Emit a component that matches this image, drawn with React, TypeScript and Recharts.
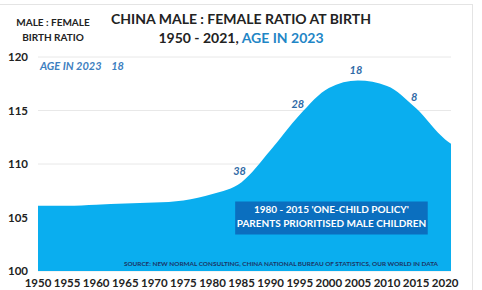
import React from "react";
import {
  AreaChart,
  Area,
  XAxis,
  YAxis,
  CartesianGrid,
  ReferenceArea,
  LabelList,
} from "recharts";

const years = [1950, 1955, 1960, 1965, 1970, 1975, 1980, 1985, 1990, 1995, 2000, 2005, 2010, 2015, 2020, 2021];
const ratios = [106.1, 106.1, 106.2, 106.3, 106.4, 106.6, 107.2, 108.3, 111.3, 114.6, 117.1, 117.8, 117.3, 115.2, 112.3, 111.9];
const ageYears = [1985, 1995, 2005, 2015];
const ages = [38, 28, 18, 8];
const xTicks = [1950, 1955, 1960, 1965, 1970, 1975, 1980, 1985, 1990, 1995, 2000, 2005, 2010, 2015, 2020];
const leftTicks = [100, 105, 110, 115, 120];
const rightTicks = [105, 110, 115, 120];

const data = years.map((y, i) => ({
  year: y,
  ratio: ratios[i],
  age: ages[ageYears.indexOf(y)],
}));

const font = "Lato, 'Open Sans', sans-serif";
const tickStyle = { fill: "#222", fontSize: 11.5, fontWeight: 700, fontFamily: font };

const AgeLabel = (props: any) => {
  const { x, y, value } = props;
  if (value === undefined || value === null) return null;
  return (
    <text
      x={x - 2}
      y={y - 7}
      textAnchor="middle"
      fill="#2f6aa6"
      fontSize={11}
      fontWeight={700}
      fontStyle="italic"
      fontFamily={font}
    >
      {value}
    </text>
  );
};

const PolicyLabel = (props: any) => {
  const { viewBox } = props;
  const cx = viewBox.x + viewBox.width / 2;
  return (
    <g fontFamily={font} fontSize={10} fontWeight={700} fill="#fff" textAnchor="middle">
      <text x={cx} y={viewBox.y + 12}>1980 - 2015 'ONE-CHILD POLICY'</text>
      <text x={cx} y={viewBox.y + 26}>PARENTS PRIORITISED MALE CHILDREN</text>
    </g>
  );
};

export default function App() {
  return (
    <div style={{ position: "fixed", left: 0, top: 0, width: 482, height: 290, background: "#fff", fontFamily: font }}>
      <div style={{ position: "absolute", left: 0, top: 4, width: 472, height: 290, borderTop: "1px solid #e4e4e4", borderRight: "1px solid #e4e4e4" }} />
      <AreaChart width={482} height={290} data={data} margin={{ top: 57, right: 0, bottom: 0, left: 0 }}>
        <CartesianGrid yAxisId="left" vertical={false} stroke="#e8e8e8" />
        <XAxis
          dataKey="year"
          type="number"
          domain={[1950, 2021]}
          ticks={xTicks}
          axisLine={false}
          tickLine={false}
          height={19}
          tick={tickStyle}
          interval={0}
        />
        <YAxis
          yAxisId="left"
          domain={[100, 120]}
          ticks={leftTicks}
          axisLine={false}
          tickLine={false}
          width={38}
          tickMargin={4}
          tick={tickStyle}
        />
        <YAxis
          yAxisId="right"
          orientation="right"
          domain={[100, 120]}
          ticks={rightTicks}
          axisLine={false}
          tickLine={false}
          width={31}
          tickSize={2}
          tickMargin={0}
          tick={{ ...tickStyle, dx: -5 }}
        />
        <Area
          yAxisId="left"
          type="monotone"
          dataKey="ratio"
          baseValue={100}
          stroke="none"
          fill="#0aaeef"
          fillOpacity={1}
          isAnimationActive={false}
        >
          <LabelList dataKey="age" content={AgeLabel} />
        </Area>
        <ReferenceArea
          yAxisId="left"
          x1={1983.9}
          x2={2017}
          y1={103.4}
          y2={106.5}
          fill="#0b6fbf"
          fillOpacity={1}
          stroke="none"
          label={PolicyLabel}
        />
      </AreaChart>
      <div style={{ position: "absolute", left: 10, top: 15, width: 86, textAlign: "center", fontSize: 10, fontWeight: 700, color: "#222", lineHeight: "15px" }}>
        MALE : FEMALE
        <br />
        BIRTH RATIO
      </div>
      <div style={{ position: "absolute", left: 0, top: 9, width: 482, textAlign: "center", fontSize: 14, fontWeight: 700, color: "#222", lineHeight: "19px" }}>
        CHINA MALE : FEMALE RATIO AT BIRTH
        <br />
        1950 - 2021, <span style={{ color: "#1f86c6" }}>AGE IN 2023</span>
      </div>
      <div style={{ position: "absolute", left: 40, top: 59, fontSize: 11, fontWeight: 700, fontStyle: "italic", color: "#3d80c0" }}>
        AGE IN 2023&nbsp;&nbsp;&nbsp;&nbsp;18
      </div>
      <div style={{ position: "absolute", left: 118, top: 260, width: 326, textAlign: "center", fontSize: 6.4, fontWeight: 700, color: "#1b3566", whiteSpace: "nowrap" }}>
        SOURCE: NEW NORMAL CONSULTING, CHINA NATIONAL BUREAU OF STATISTICS, OUR WORLD IN DATA
      </div>
    </div>
  );
}
